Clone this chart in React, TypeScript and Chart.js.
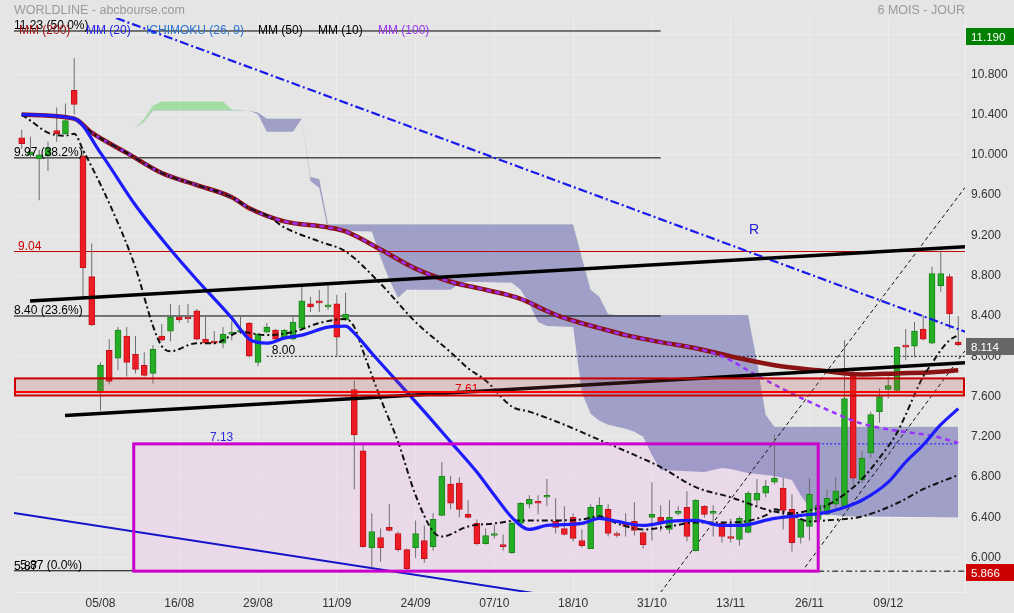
import React, { useEffect, useRef } from "react";
import { Chart, registerables } from "chart.js";

Chart.register(...registerables);

const FONT = "'Liberation Sans', Arial, Helvetica, sans-serif";
const BG = "#e5e5e5";

// ---------- Daily candles (23/07 -> 19/12), index = trading day ----------
const opens = [
  10.17, 10.0, 9.96, 9.99, 10.24, 10.21, 10.64, 9.99, 8.79, 7.64,
  8.06, 7.98, 8.2, 8.02, 7.91, 7.83, 8.2, 8.25, 8.39, 8.39,
  8.45, 8.17, 8.15, 8.13, 8.22, 8.24, 8.33, 7.94, 8.24, 8.26,
  8.18, 8.17, 8.28, 8.52, 8.55, 8.49, 8.52, 8.36, 7.67, 7.06,
  6.1, 6.2, 6.3, 6.24, 6.08, 6.1, 6.17, 6.11, 6.42, 6.73,
  6.74, 6.43, 6.34, 6.14, 6.22, 6.13, 6.05, 6.34, 6.53, 6.55,
  6.6, 6.36, 6.29, 6.4, 6.17, 6.09, 6.4, 6.48, 6.24, 6.33,
  6.36, 6.25, 6.4, 6.4, 6.28, 6.44, 6.5, 6.07, 6.51, 6.44,
  6.34, 6.21, 6.18, 6.25, 6.57, 6.64, 6.75, 6.69, 6.48, 6.2,
  6.31, 6.38, 6.43, 6.53, 6.51, 7.8, 6.77, 7.04, 7.45, 7.67,
  7.66, 8.11, 8.1, 8.27, 8.13, 8.7, 8.79, 8.14,
];
const closes = [
  10.11, 10.03, 10.0, 10.07, 10.21, 10.34, 10.5, 8.88, 8.31, 7.91,
  7.75, 8.26, 7.94, 7.87, 7.81, 8.07, 8.16, 8.39, 8.36, 8.37,
  8.17, 8.13, 8.13, 8.22, 8.24, 8.26, 8.0, 8.22, 8.29, 8.17,
  8.26, 8.34, 8.55, 8.49, 8.53, 8.51, 8.19, 8.42, 7.22, 6.11,
  6.26, 6.1, 6.27, 6.08, 5.89, 6.24, 5.99, 6.38, 6.81, 6.54,
  6.48, 6.4, 6.14, 6.22, 6.24, 6.11, 6.34, 6.54, 6.58, 6.54,
  6.62, 6.3, 6.23, 6.19, 6.12, 6.5, 6.52, 6.24, 6.22, 6.31,
  6.27, 6.13, 6.43, 6.34, 6.4, 6.46, 6.21, 6.57, 6.43, 6.45,
  6.21, 6.19, 6.39, 6.64, 6.64, 6.71, 6.79, 6.47, 6.15, 6.38,
  6.63, 6.52, 6.59, 6.66, 7.58, 6.79, 6.99, 7.42, 7.6, 7.71,
  8.09, 8.09, 8.25, 8.17, 8.82, 8.82, 8.42, 8.114,
];
const highs = [
  10.25, 10.18, 10.05, 10.13, 10.47, 10.51, 10.96, 10.05, 9.12, 7.94,
  8.17, 8.29, 8.29, 8.2, 8.04, 8.11, 8.32, 8.52, 8.51, 8.52,
  8.47, 8.39, 8.25, 8.29, 8.35, 8.39, 8.34, 8.23, 8.33, 8.27,
  8.27, 8.39, 8.69, 8.59, 8.66, 8.7, 8.61, 8.63, 7.76, 7.12,
  6.44, 6.29, 6.53, 6.26, 6.09, 6.37, 6.32, 6.44, 6.95, 6.81,
  6.8, 6.57, 6.38, 6.29, 6.33, 6.23, 6.36, 6.55, 6.62, 6.62,
  6.78, 6.59, 6.51, 6.44, 6.28, 6.53, 6.6, 6.53, 6.26, 6.44,
  6.55, 6.26, 6.75, 6.52, 6.57, 6.51, 6.66, 6.58, 6.52, 6.52,
  6.36, 6.39, 6.41, 6.66, 6.78, 6.77, 7.22, 6.79, 6.63, 6.39,
  6.79, 6.54, 6.68, 6.8, 8.16, 7.89, 7.06, 7.45, 7.68, 7.8,
  8.1, 8.27, 8.34, 8.41, 8.89, 9.05, 8.82, 8.4,
];
const lows = [
  10.06, 9.97, 9.55, 9.84, 10.13, 10.2, 10.4, 8.59, 8.3, 7.46,
  7.72, 7.86, 7.8, 7.83, 7.8, 7.73, 8.15, 8.15, 8.33, 8.33,
  8.16, 8.12, 8.12, 8.08, 8.16, 8.22, 7.99, 7.9, 8.23, 8.16,
  8.17, 8.16, 8.27, 8.44, 8.44, 8.46, 7.99, 8.35, 6.68, 6.1,
  5.9, 5.96, 6.26, 6.06, 5.866, 6.0, 5.95, 6.07, 6.41, 6.48,
  6.4, 6.39, 6.12, 6.13, 6.19, 6.07, 6.04, 6.32, 6.49, 6.43,
  6.51, 6.24, 6.22, 6.16, 6.1, 6.09, 6.38, 6.21, 6.2, 6.21,
  6.22, 6.09, 6.17, 6.26, 6.24, 6.42, 6.16, 6.06, 6.4, 6.21,
  6.15, 6.15, 6.12, 6.24, 6.51, 6.6, 6.73, 6.28, 6.06, 6.14,
  6.17, 6.35, 6.42, 6.49, 6.5, 6.72, 6.74, 6.99, 7.34, 7.58,
  7.64, 7.96, 7.99, 8.16, 8.12, 8.64, 8.27, 8.1,
];

// ---------- X axis tick labels ----------
const xTickIdx = [9, 18, 27, 36, 45, 54, 63, 72, 81, 90, 99];
const xTickLabels = ["05/08", "16/08", "29/08", "11/09", "24/09", "07/10", "18/10", "31/10", "13/11", "26/11", "09/12"];

// ---------- Moving averages (index, value) ----------
const mm20Idx = [0, 6, 9, 13, 17, 20, 24, 26, 28, 30, 32, 35, 37, 38, 40, 43, 46, 49, 52, 54, 56, 58, 60, 64, 66, 68, 71, 74, 77, 80, 82, 86, 89, 92, 94, 96, 99, 101, 103, 105, 107];
const mm20Val = [10.4, 10.36, 10.02, 9.5, 9.06, 8.76, 8.38, 8.17, 8.13, 8.18, 8.21, 8.29, 8.3, 8.23, 8.03, 7.74, 7.45, 7.15, 6.85, 6.62, 6.4, 6.28, 6.32, 6.34, 6.39, 6.36, 6.32, 6.36, 6.37, 6.32, 6.32, 6.39, 6.42, 6.45, 6.5, 6.57, 6.75, 6.95, 7.12, 7.32, 7.48];

const mm10Idx = [0, 1, 3, 5, 6, 7, 10, 13, 15, 16, 17, 20, 22, 25, 28, 31, 34, 37, 38, 39, 41, 43, 45, 47, 48, 51, 54, 57, 61, 64, 66, 68, 71, 74, 77, 81, 85, 86, 88, 90, 92, 94, 96, 98, 100, 101, 102, 103, 104, 105, 106, 107];
const mm10Val = [10.4, 10.34, 10.22, 10.19, 10.21, 10.05, 9.52, 8.88, 8.3, 8.1, 8.05, 8.13, 8.13, 8.24, 8.21, 8.24, 8.33, 8.37, 8.29, 8.05, 7.58, 7.15, 6.62, 6.26, 6.21, 6.31, 6.34, 6.37, 6.37, 6.38, 6.41, 6.34, 6.28, 6.31, 6.35, 6.35, 6.42, 6.48, 6.44, 6.47, 6.52, 6.63, 6.78, 6.99, 7.24, 7.42, 7.62, 7.8, 7.93, 8.06, 8.16, 8.21];

const mm50Idx = [0, 6, 8, 12, 16, 20, 24, 26, 28, 30, 34, 37, 41, 45, 49, 51, 53, 56, 58, 62, 66, 70, 73, 77, 81, 85, 88, 90, 92, 96, 100, 103, 107];
const mm50Val = [10.4, 10.36, 10.22, 10.02, 9.82, 9.7, 9.58, 9.47, 9.4, 9.28, 9.14, 9.04, 8.72, 8.34, 8.04, 7.88, 7.76, 7.5, 7.45, 7.32, 7.17, 7.02, 6.9, 6.7, 6.6, 6.48, 6.42, 6.36, 6.37, 6.41, 6.54, 6.68, 6.82];

const mm200Idx = [0, 6, 8, 12, 16, 20, 24, 26, 30, 35, 37, 41, 45, 49, 53, 57, 60, 62, 66, 69, 73, 77, 82, 86, 91, 96, 100, 104, 107];
const mm200Val = [10.4, 10.36, 10.22, 10.02, 9.82, 9.7, 9.58, 9.47, 9.34, 9.28, 9.24, 9.06, 8.87, 8.74, 8.66, 8.57, 8.45, 8.38, 8.28, 8.21, 8.14, 8.08, 7.98, 7.91, 7.86, 7.82, 7.83, 7.84, 7.86];

const mm100Idx = [0, 6, 8, 12, 16, 20, 24, 26, 30, 35, 37, 41, 45, 49, 53, 57, 60, 62, 66, 69, 73, 77, 80, 84, 88, 92, 96, 100, 104, 107];
const mm100Val = [10.4, 10.36, 10.22, 10.02, 9.82, 9.7, 9.58, 9.47, 9.34, 9.28, 9.24, 9.06, 8.87, 8.74, 8.66, 8.57, 8.45, 8.38, 8.28, 8.21, 8.14, 8.08, 8.0, 7.81, 7.63, 7.47, 7.33, 7.26, 7.21, 7.14];

// ---------- Ichimoku cloud (senkou spans) ----------
const cloudIdx = [13, 14, 15, 16, 23, 24, 26, 27, 28, 31, 32, 33, 34, 35, 40, 41, 42, 43, 44, 49, 50, 51, 56, 57, 58, 59, 60, 63, 64, 65, 66, 67, 68, 69, 70, 71, 72, 73, 78, 79, 80, 81, 82, 83, 84, 85, 86, 87, 88, 89, 90, 91, 92, 94, 107];
const spanA = [10.27, 10.36, 10.49, 10.53, 10.53, 10.45, 10.44, 10.4, 10.23, 10.23, 10.36, 9.74, 9.67, 9.25, 9.24, 8.98, 8.76, 8.58, 8.66, 8.66, 8.72, 8.74, 8.73, 8.66, 8.52, 8.34, 8.3, 8.29, 7.64, 7.43, 7.36, 7.32, 7.3, 7.28, 7.25, 7.2, 7.02, 6.87, 6.85, 6.87, 6.89, 6.88, 6.86, 6.84, 6.83, 6.82, 6.81, 6.79, 6.77, 6.62, 6.5, 6.45, 6.43, 6.41, 6.4];
const spanB = [10.27, 10.33, 10.44, 10.44, 10.44, 10.44, 10.44, 10.42, 10.36, 10.36, 10.36, 9.78, 9.76, 9.31, 9.31, 9.31, 9.31, 9.31, 9.31, 9.31, 9.31, 9.31, 9.31, 9.31, 9.31, 9.31, 9.31, 9.31, 8.98, 8.66, 8.59, 8.42, 8.41, 8.41, 8.41, 8.41, 8.41, 8.41, 8.41, 8.41, 8.41, 8.41, 8.41, 8.41, 7.95, 7.42, 7.3, 7.3, 7.3, 7.3, 7.3, 7.3, 7.3, 7.3, 7.3];

// ---------- Levels & drawings ----------
const fibLevels = [11.23, 9.97, 8.4, 5.87];
const fibLabels = ["11.23 (50.0%)", "9.97 (38.2%)", "8.40 (23.6%)", "5.87 (0.0%)"];
const fibEndIdx = 73;
const resistance = 9.04;
const pivotLevel = 8.0;
const pivotStartIdx = 28;
const zoneLow = 7.61;
const zoneHigh = 7.78;
const zoneLine = 7.645;
const boxStartIdx = 12.8;
const boxEndIdx = 91;
const boxLow = 5.866;
const boxHigh = 7.13;
const periodHigh = 11.19;
const lastPrice = 8.114;
const periodLow = 5.866;

const upperTrendIdx = [0.95, 107.77];
const upperTrendVal = [8.549, 9.088];
const lowerTrendIdx = [4.95, 107.77];
const lowerTrendVal = [7.412, 7.936];
const rLineIdx = [10.79, 107.77];
const rLineVal = [11.359, 8.244];
const blueSupportIdx = [-0.88, 60];
const blueSupportVal = [6.444, 5.628];
const channel1Idx = [72, 107.77];
const channel1Val = [5.54, 9.676];
const channel2Idx = [89.5, 107.77];
const channel2Val = [5.905, 8.055];

const X_MIN = -0.88;
const X_MAX = 107.77;
const Y_MIN = 5.659;
const Y_MAX = 11.359;

function txt(ctx: any, s: string, x: number, y: number, color: string, size = 12, align = "left") {
  ctx.font = `${size}px ${FONT}`;
  ctx.fillStyle = color;
  ctx.textAlign = align;
  ctx.textBaseline = "alphabetic";
  ctx.fillText(s, x, y);
}

const annotPlugin = {
  id: "annot",
  beforeDraw(chart: any) {
    const c = chart.ctx;
    c.save();
    c.fillStyle = BG;
    c.fillRect(0, 0, chart.width, chart.height);
    c.restore();
  },
  beforeDatasetsDraw(chart: any) {
    const { ctx, chartArea: a, scales } = chart;
    const x = scales.x, y = scales.y;
    ctx.save();
    ctx.beginPath();
    ctx.rect(a.left, a.top, a.right - a.left, a.bottom - a.top);
    ctx.clip();
    const bx0 = x.getPixelForValue(boxStartIdx), bx1 = x.getPixelForValue(boxEndIdx);
    const by0 = y.getPixelForValue(boxHigh), by1 = y.getPixelForValue(boxLow);
    ctx.fillStyle = "rgba(240,200,240,0.4)";
    ctx.fillRect(bx0, by0, bx1 - bx0, by1 - by0);
    ctx.restore();
  },
  afterDatasetsDraw(chart: any) {
    const { ctx, chartArea: a, scales } = chart;
    const x = scales.x, y = scales.y;
    ctx.save();
    // support zone
    const zy0 = y.getPixelForValue(zoneHigh), zy1 = y.getPixelForValue(zoneLow);
    ctx.fillStyle = "rgba(185,70,70,0.2)";
    ctx.fillRect(a.left, zy0, a.right - a.left, zy1 - zy0);
    ctx.lineWidth = 2;
    ctx.strokeStyle = "#c80000";
    ctx.strokeRect(a.left + 1, zy0, a.right - a.left - 2, zy1 - zy0);
    ctx.strokeStyle = "#ff0000";
    const zl = y.getPixelForValue(zoneLine);
    ctx.beginPath();
    ctx.moveTo(a.left, zl);
    ctx.lineTo(a.right, zl);
    ctx.stroke();
    // magenta box border
    const bx0 = x.getPixelForValue(boxStartIdx), bx1 = x.getPixelForValue(boxEndIdx);
    const by0 = y.getPixelForValue(boxHigh), by1 = y.getPixelForValue(boxLow);
    ctx.lineWidth = 3;
    ctx.strokeStyle = "#cc00cc";
    ctx.strokeRect(bx0, by0, bx1 - bx0, by1 - by0);
    ctx.restore();
  },
  afterDraw(chart: any) {
    const { ctx, chartArea: a, scales } = chart;
    const x = scales.x, y = scales.y;
    ctx.save();
    txt(ctx, "WORLDLINE - abcbourse.com", 14, 14, "#9a9a9a", 12.5);
    txt(ctx, "6 MOIS - JOUR", a.right, 14, "#9a9a9a", 12.5, "right");

    // fib labels
    fibLevels.forEach((v, i) => {
      const lx = i === 3 ? 20 : a.left;
      txt(ctx, fibLabels[i], lx, y.getPixelForValue(v) - 1.5, "#000", 12);
    });
    txt(ctx, "5.87", a.left, y.getPixelForValue(periodLow) - 1.5, "#000", 12);

    // legend
    const legend = [
      ["MM (200)", 19, "#a01010"],
      ["MM (20)", 86, "#2222ee"],
      ["ICHIMOKU (26, 9)", 146, "#2a72d2"],
      ["MM (50)", 258, "#000"],
      ["MM (10)", 318, "#000"],
      ["MM (100)", 378, "#9a33ee"],
    ];
    legend.forEach(([s, lx, c]: any) => txt(ctx, s, lx, 33.5, c, 12));

    txt(ctx, "9.04", a.left + 4, y.getPixelForValue(resistance) - 1.5, "#cc0000", 12);
    txt(ctx, "8.00", x.getPixelForValue(pivotStartIdx) + 5, y.getPixelForValue(pivotLevel) - 2, "#000", 12);
    txt(ctx, "7.61", x.getPixelForValue(49.5), y.getPixelForValue(zoneLow) - 2.5, "#dd0000", 12);
    txt(ctx, "7.13", x.getPixelForValue(21.5), y.getPixelForValue(boxHigh) - 2.5, "#2a2ae0", 12);
    txt(ctx, "R", x.getPixelForValue(83.1), y.getPixelForValue(9.21), "#2020dd", 14);

    // value boxes on right axis
    const boxes: any[] = [
      [periodHigh, "#008000"],
      [lastPrice, "#666666"],
      [periodLow, "#cc0000"],
    ];
    boxes.forEach(([v, c]) => {
      const py = Math.round(y.getPixelForValue(v)) + 2;
      ctx.fillStyle = c;
      ctx.fillRect(a.right + 1, py - 9, chart.width - a.right - 1, 17);
      txt(ctx, v.toFixed(3), a.right + 6, py + 4, "#ffffff", 11.5);
    });
    ctx.restore();
  },
};

export default function App() {
  const ref = useRef<HTMLCanvasElement>(null);

  useEffect(() => {
    const canvas = ref.current as HTMLCanvasElement;
    const pts = (xs: number[], ys: number[]) => xs.map((xv, i) => ({ x: xv, y: ys[i] }));
    const hline = (v: number, x0: number, x1: number) => [{ x: x0, y: v }, { x: x1, y: v }];
    const lineDs = (data: any[], color: string, width: number, dash: number[], order: number, extra: any = {}) => ({
      type: "line",
      data,
      borderColor: color,
      borderWidth: width,
      borderDash: dash,
      pointRadius: 0,
      fill: false,
      tension: 0,
      order,
      ...extra,
    });
    const smooth = { cubicInterpolationMode: "monotone" };

    const datasets: any[] = [
      {
        type: "line",
        data: pts(cloudIdx, spanB),
        borderColor: "rgba(0,0,0,0)",
        borderWidth: 1,
        pointRadius: 0,
        fill: false,
        tension: 0,
        order: 20,
      },
      {
        type: "line",
        data: pts(cloudIdx, spanA),
        borderColor: "rgba(0,0,0,0)",
        borderWidth: 1,
        pointRadius: 0,
        tension: 0,
        order: 19,
        fill: { target: 0, above: "rgba(125,216,125,0.62)", below: "rgba(112,112,180,0.6)" },
      },
      ...fibLevels.map((v) => lineDs(hline(v, X_MIN, fibEndIdx), "#000", 1, [], 15)),
      lineDs(hline(resistance, X_MIN, X_MAX), "#c00000", 1, [], 15),
      lineDs(hline(pivotLevel, pivotStartIdx, X_MAX), "#000", 1, [2, 2], 15),
      lineDs(hline(boxHigh, boxEndIdx, 107), "#1a1aff", 1, [2, 2], 15),
      lineDs(hline(periodLow, boxEndIdx, X_MAX), "#000", 1, [6, 3, 2, 3], 15),
      lineDs(pts(blueSupportIdx, blueSupportVal), "#1414c8", 2, [], 14),
      lineDs(pts(channel1Idx, channel1Val), "#111", 1, [4, 3], 14),
      lineDs(pts(channel2Idx, channel2Val), "#111", 1, [4, 3], 14),
      {
        type: "bar",
        data: highs.map((h, i) => ({ x: i, y: [lows[i], h] })),
        backgroundColor: "#6e6e6e",
        borderWidth: 0,
        barThickness: 1,
        inflateAmount: 0,
        grouped: false,
        order: 12,
      },
      {
        type: "bar",
        data: opens.map((o, i) => ({ x: i, y: [o, closes[i]] })),
        backgroundColor: (c: any) => (closes[c.dataIndex] >= opens[c.dataIndex] ? "#25ad25" : "#ee1c24"),
        borderColor: (c: any) => (closes[c.dataIndex] >= opens[c.dataIndex] ? "#1c861c" : "#c0121a"),
        borderWidth: 1,
        borderSkipped: false,
        barThickness: 6,
        minBarLength: 2,
        grouped: false,
        order: 11,
      },
      lineDs(pts(mm200Idx, mm200Val), "#8b1212", 4.5, [], 9, smooth),
      lineDs(pts(mm100Idx, mm100Val), "#9b30ff", 2.5, [5, 4], 8, smooth),
      lineDs(pts(mm50Idx, mm50Val), "#111", 2, [6, 3, 2, 3], 7, smooth),
      lineDs(pts(mm10Idx, mm10Val), "#111", 2, [6, 3, 2, 3], 6, smooth),
      lineDs(pts(mm20Idx, mm20Val), "#1c1cff", 3.2, [], 5, smooth),
      lineDs(pts(upperTrendIdx, upperTrendVal), "#000", 3.5, [], 4),
      lineDs(pts(lowerTrendIdx, lowerTrendVal), "#000", 3.5, [], 4),
      lineDs(pts(rLineIdx, rLineVal), "#1a1aee", 2.2, [9, 3, 2, 3], 4),
    ];

    const chart = new Chart(canvas, {
      type: "line",
      data: { datasets },
      options: {
        animation: false,
        responsive: false,
        devicePixelRatio: 1,
        events: [],
        layout: { padding: { left: 14, top: 18, right: 0, bottom: 0 } },
        plugins: {
          legend: { display: false },
          tooltip: { enabled: false },
          title: { display: false },
        },
        elements: { point: { radius: 0 } },
        scales: {
          x: {
            type: "linear",
            min: X_MIN,
            max: X_MAX,
            offset: false,
            grid: { color: "#ededed", lineWidth: 1, drawTicks: false, offset: false },
            border: { display: true, color: "#efefef" },
            ticks: {
              autoSkip: false,
              maxRotation: 0,
              padding: 4,
              color: "#333",
              font: { family: FONT, size: 12 },
              callback: (v: any) => {
                const k = xTickIdx.indexOf(Number(v));
                return k >= 0 ? xTickLabels[k] : "";
              },
            },
            afterBuildTicks: (s: any) => {
              s.ticks = xTickIdx.map((v) => ({ value: v }));
            },
            afterFit: (s: any) => {
              s.height = 21;
            },
          },
          y: {
            type: "linear",
            position: "right",
            min: Y_MIN,
            max: Y_MAX,
            grid: { color: "#ededed", lineWidth: 1, drawTicks: false },
            border: { display: true, color: "#efefef" },
            ticks: {
              stepSize: 0.4,
              includeBounds: false,
              autoSkip: false,
              padding: 6,
              color: "#333",
              font: { family: FONT, size: 12 },
              callback: (v: any) => Number(v).toFixed(3),
            },
            afterFit: (s: any) => {
              s.width = 49;
            },
          },
        },
      } as any,
      plugins: [annotPlugin],
    } as any);

    return () => chart.destroy();
  }, []);

  return (
    <div style={{ position: "fixed", left: 0, top: 0, width: 1014, height: 613, background: BG }}>
      <canvas ref={ref} width={1014} height={613} style={{ display: "block", width: 1014, height: 613 }} />
    </div>
  );
}
